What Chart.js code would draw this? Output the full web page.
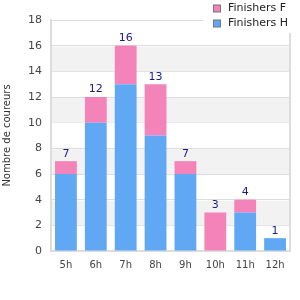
<!DOCTYPE html>
<html>
<head>
<meta charset="utf-8">
<script src="https://cdn.jsdelivr.net/npm/chart.js@4/dist/chart.umd.min.js"></script>
<style>
  body { margin: 0; background: #fff; }
</style>
</head>
<body>
<canvas id="myChart" width="300" height="300"></canvas>
<script>
var heures = ['5h', '6h', '7h', '8h', '9h', '10h', '11h', '12h'];
var finishersH = [6, 10, 13, 9, 6, 0, 3, 1];
var finishersF = [1, 2, 3, 4, 1, 3, 1, 0];
var yTicks = [0, 2, 4, 6, 8, 10, 12, 14, 16, 18];

var bleu = '#60a8f4';
var rose = '#f383b9';
var police = '"DejaVu Sans", sans-serif';

// bandes grises alternées + bord droit
var bandes = {
    id: 'bandes',
    beforeDatasetsDraw: function (chart) {
        var c = chart.ctx, a = chart.chartArea, y = chart.scales.y;
        c.save();
        c.fillStyle = '#f2f2f2';
        for (var v = 2; v < 18; v += 4) {
            var y1 = y.getPixelForValue(v + 2), y0 = y.getPixelForValue(v);
            c.fillRect(a.left + 1, y1 + 1, a.right - a.left - 1, y0 - y1 - 1);
        }
        c.strokeStyle = '#ddd';
        c.lineWidth = 2;
        c.beginPath();
        c.moveTo(a.right, a.top);
        c.lineTo(a.right, a.bottom);
        c.stroke();
        c.restore();
    }
};

// totaux au-dessus des barres
var totaux = {
    id: 'totaux',
    afterDatasetsDraw: function (chart) {
        var c = chart.ctx, x = chart.scales.x, y = chart.scales.y;
        c.save();
        c.fillStyle = '#1a1a8c';
        c.font = '11px ' + police;
        c.textAlign = 'center';
        c.textBaseline = 'bottom';
        heures.forEach(function (h, i) {
            var t = finishersH[i] + finishersF[i];
            c.fillText(String(t), x.getPixelForValue(i), y.getPixelForValue(t) - 2);
        });
        c.restore();
    }
};

// légende en haut à droite, verticale
var legende = {
    id: 'legende',
    afterDraw: function (chart) {
        var c = chart.ctx;
        c.save();
        c.fillStyle = '#fff';
        c.fillRect(203, 0, 97, 33);
        var items = [['Finishers F', rose], ['Finishers H', bleu]];
        c.font = '11px ' + police;
        c.textBaseline = 'middle';
        items.forEach(function (it, i) {
            var yy = 8.5 + i * 15;
            c.fillStyle = it[1];
            c.fillRect(213.5, yy - 3.5, 7, 7);
            c.strokeStyle = '#777';
            c.lineWidth = 1;
            c.strokeRect(213.5, yy - 3.5, 7, 7);
            c.fillStyle = '#222';
            c.fillText(it[0], 228, yy);
        });
        c.restore();
    }
};

var ctx = document.getElementById('myChart').getContext('2d');
var myChart = new Chart(ctx, {
    type: 'bar',
    data: {
        labels: heures,
        datasets: [{
            label: 'Finishers H',
            data: finishersH,
            backgroundColor: bleu,
            categoryPercentage: 1,
            barPercentage: 0.73
        }, {
            label: 'Finishers F',
            data: finishersF,
            backgroundColor: rose,
            categoryPercentage: 1,
            barPercentage: 0.73
        }]
    },
    options: {
        responsive: false,
        animation: false,
        layout: { padding: { top: 20, right: 10, bottom: 21, left: 1 } },
        scales: {
            x: {
                stacked: true,
                grid: { display: false, drawTicks: false },
                border: { color: '#ddd', width: 2 },
                ticks: { color: '#444', font: { size: 10, family: 'DejaVu Sans' }, padding: 8 }
            },
            y: {
                stacked: true,
                min: 0,
                max: 18,
                afterBuildTicks: function (s) {
                    s.ticks = yTicks.map(function (v) { return { value: v }; });
                },
                grid: { color: '#ddd', drawTicks: false },
                border: { color: '#ddd', width: 2 },
                ticks: { color: '#444', font: { size: 11, family: 'DejaVu Sans' }, padding: 9 },
                title: {
                    display: true,
                    text: 'Nombre de coureurs',
                    color: '#333',
                    font: { size: 10, family: 'DejaVu Sans' },
                    padding: { top: 0, bottom: 6 }
                }
            }
        },
        plugins: {
            legend: { display: false },
            tooltip: { enabled: false }
        }
    },
    plugins: [bandes, totaux, legende]
});
</script>
</body>
</html>
